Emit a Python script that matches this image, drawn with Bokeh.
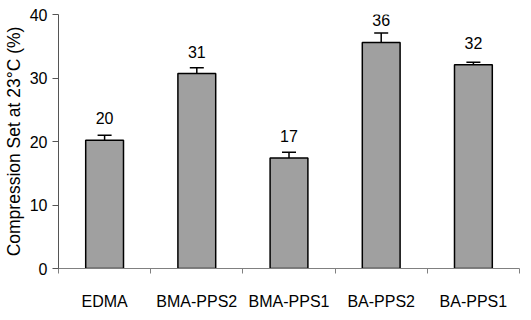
from bokeh.plotting import figure
from bokeh.models import ColumnDataSource, Range1d, FixedTicker, Whisker
from bokeh.core.properties import value
from bokeh.embed import file_html
from bokeh.resources import INLINE

categories = ["EDMA", "BMA-PPS2", "BMA-PPS1", "BA-PPS2", "BA-PPS1"]
values = [20.2, 30.7, 17.4, 35.6, 32.1]
errors = [0.8, 0.9, 0.9, 1.5, 0.4]
y_ticks = [0, 10, 20, 30, 40]

FONT = "Liberation Sans"

xs = list(range(len(categories)))
src = ColumnDataSource(dict(
    x=xs, top=values,
    upper=[v + e for v, e in zip(values, errors)],
    lower=[v - e for v, e in zip(values, errors)],
    label=[str(int(round(v))) for v in values],
))

p = figure(width=523, height=312, output_backend="svg", toolbar_location=None,
           x_range=Range1d(-0.5, len(categories) - 0.5), y_range=Range1d(0, 40),
           min_border_left=55, min_border_right=4, min_border_top=14, min_border_bottom=31)
p.outline_line_color = None
p.grid.grid_line_color = None
p.background_fill_color = "white"

p.vbar(x="x", top="top", width=0.41, bottom=0, source=src,
       fill_color="#a0a0a0", line_color="black", line_width=1.5)

w = Whisker(base="x", upper="upper", lower="lower", source=src,
            line_color="black", line_width=1.5)
w.upper_head.size = 14
w.lower_head.size = 14
w.upper_head.line_width = 1.5
w.lower_head.line_width = 1.5
p.add_layout(w)

p.text(x="x", y="top", text="label", source=src, y_offset=-22,
       text_align="center", text_baseline="middle",
       text_font=value(FONT), text_font_size="16px", text_color="black")

# x axis
xa = p.xaxis[0]
xa.ticker = FixedTicker(ticks=xs, minor_ticks=[i - 0.5 for i in range(len(categories) + 1)])
xa.major_label_overrides = {i: c for i, c in enumerate(categories)}
xa.major_tick_line_color = None
xa.major_tick_out = 0
xa.major_tick_in = 0
xa.minor_tick_out = 5
xa.minor_tick_in = 0
xa.minor_tick_line_color = "#808080"
xa.axis_line_color = "#808080"
xa.major_label_standoff = 19
xa.major_label_text_font = FONT
xa.major_label_text_font_size = "16px"
xa.major_label_text_color = "black"

# y axis
ya = p.yaxis[0]
ya.ticker = FixedTicker(ticks=y_ticks)
ya.axis_line_color = "#555555"
ya.major_tick_line_color = "#555555"
ya.major_tick_out = 6
ya.major_tick_in = 0
ya.minor_tick_line_color = None
ya.major_label_standoff = 5
ya.major_label_text_font = FONT
ya.major_label_text_font_size = "16px"
ya.major_label_text_color = "black"
ya.axis_label = "Compression Set at 23°C (%)"
ya.axis_label_text_font = FONT
ya.axis_label_text_font_size = "17.5px"
ya.axis_label_text_font_style = "normal"
ya.axis_label_text_color = "black"
ya.axis_label_standoff = 3

open("out.html", "w").write(file_html(p, INLINE))
